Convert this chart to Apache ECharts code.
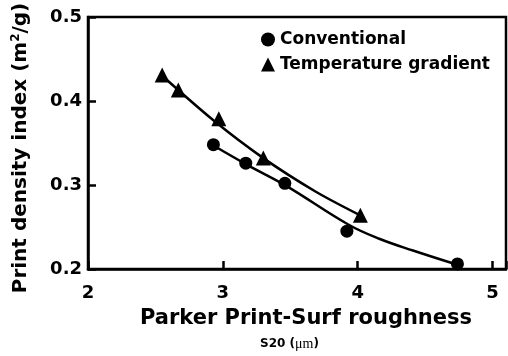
<!DOCTYPE html>
<html>
<head>
<meta charset="utf-8">
<script src="https://cdn.jsdelivr.net/npm/echarts@6/dist/echarts.min.js"></script>
<style>
  html, body { margin: 0; padding: 0; background: #fff; }
  #chart { width: 508px; height: 356px; }
</style>
</head>
<body>
<div id="chart"></div>
<script>
// values
const convX = [2.93, 3.17, 3.46, 3.92, 4.74];
const convY = [0.348, 0.326, 0.302, 0.245, 0.206];
const tempX = [2.55, 2.67, 2.97, 3.30, 4.02];
const tempY = [0.431, 0.413, 0.379, 0.332, 0.264];

// fitted curves, points
const convFitX = [2.93, 3.18, 3.47, 3.93, 4.16, 4.41, 4.74];
const convFitY = [0.347, 0.324, 0.299, 0.253, 0.236, 0.222, 0.205];
const tempFitX = [2.55, 2.93, 3.30, 3.69, 4.03];
const tempFitY = [0.430, 0.377, 0.332, 0.292, 0.263];

const FONT = 'DejaVu Sans';

const zip = (xs, ys) => xs.map((x, i) => [x, ys[i]]);

const chart = echarts.init(document.getElementById('chart'));

const option = {
  animation: false,
  backgroundColor: '#fff',
  grid: {
    left: 88, top: 17, right: 2, bottom: 87,
    containLabel: false, outerBoundsMode: 'none',
    show: true, borderColor: '#000', borderWidth: 2.5
  },
  legend: {
    orient: 'vertical',
    left: 256, top: 26,
    itemWidth: 14, itemHeight: 14, itemGap: 8,
    textStyle: { fontFamily: FONT, fontWeight: 'bold', fontSize: 17, color: '#000' },
    data: [
      { name: 'Conventional', icon: 'circle' },
      { name: 'Temperature gradient', icon: 'triangle' }
    ]
  },
  xAxis: {
    type: 'value',
    min: 2, max: 5.1, interval: 1,
    name: 'Parker Print-Surf roughness',
    nameLocation: 'middle', nameGap: 39,
    nameTextStyle: { fontFamily: FONT, fontWeight: 'bold', fontSize: 21, color: '#000', padding: [0, 0, 0, 18] },
    axisLine: { lineStyle: { color: '#000', width: 2.5 } },
    axisTick: { inside: true, length: 8, lineStyle: { color: '#000', width: 2.5 } },
    axisLabel: {
      margin: 15, fontFamily: FONT, fontWeight: 'bold', fontSize: 18, color: '#000',
      formatter: v => (Number.isInteger(v) ? String(v) : '')
    },
    splitLine: { show: false }
  },
  yAxis: {
    type: 'value',
    min: 0.2, max: 0.5, interval: 0.1,
    name: 'Print density index (m{sup|2}/g)',
    nameLocation: 'middle', nameGap: 56,
    nameTextStyle: {
      fontFamily: FONT, fontWeight: 'bold', fontSize: 20, color: '#000',
      padding: [0, 10, 0, 0],
      rich: {
        sup: { fontFamily: FONT, fontWeight: 'bold', fontSize: 12, verticalAlign: 'bottom', padding: [0, 0, 10, 0] }
      }
    },
    axisLine: { lineStyle: { color: '#000', width: 2.5 } },
    axisTick: { inside: true, length: 8, lineStyle: { color: '#000', width: 2.5 } },
    axisLabel: {
      margin: 6, fontFamily: FONT, fontWeight: 'bold', fontSize: 18, color: '#000',
      formatter: v => v.toFixed(1)
    },
    splitLine: { show: false }
  },
  graphic: [{
    type: 'text',
    left: 260, top: 337,
    style: {
      text: 'S20 ({mu|μm})',
      fontFamily: FONT, fontWeight: 'bold', fontSize: 12, fill: '#000',
      rich: { mu: { fontFamily: 'Liberation Serif', fontWeight: 'normal', fontSize: 14, fill: '#000' } }
    }
  }],
  series: [
    {
      name: 'Conventional fit', type: 'line', smooth: 0.4, showSymbol: false,
      lineStyle: { color: '#000', width: 2.5 }, data: zip(convFitX, convFitY), z: 1
    },
    {
      name: 'Temperature fit', type: 'line', smooth: 0.3, showSymbol: false,
      lineStyle: { color: '#000', width: 2.5 }, data: zip(tempFitX, tempFitY), z: 1
    },
    {
      name: 'Conventional', type: 'scatter', symbol: 'circle', symbolSize: 13,
      itemStyle: { color: '#000', opacity: 1 }, data: zip(convX, convY), z: 3
    },
    {
      name: 'Temperature gradient', type: 'scatter', symbol: 'triangle', symbolSize: 15,
      itemStyle: { color: '#000', opacity: 1 }, data: zip(tempX, tempY), z: 3
    }
  ]
};

chart.setOption(option);
</script>
</body>
</html>
